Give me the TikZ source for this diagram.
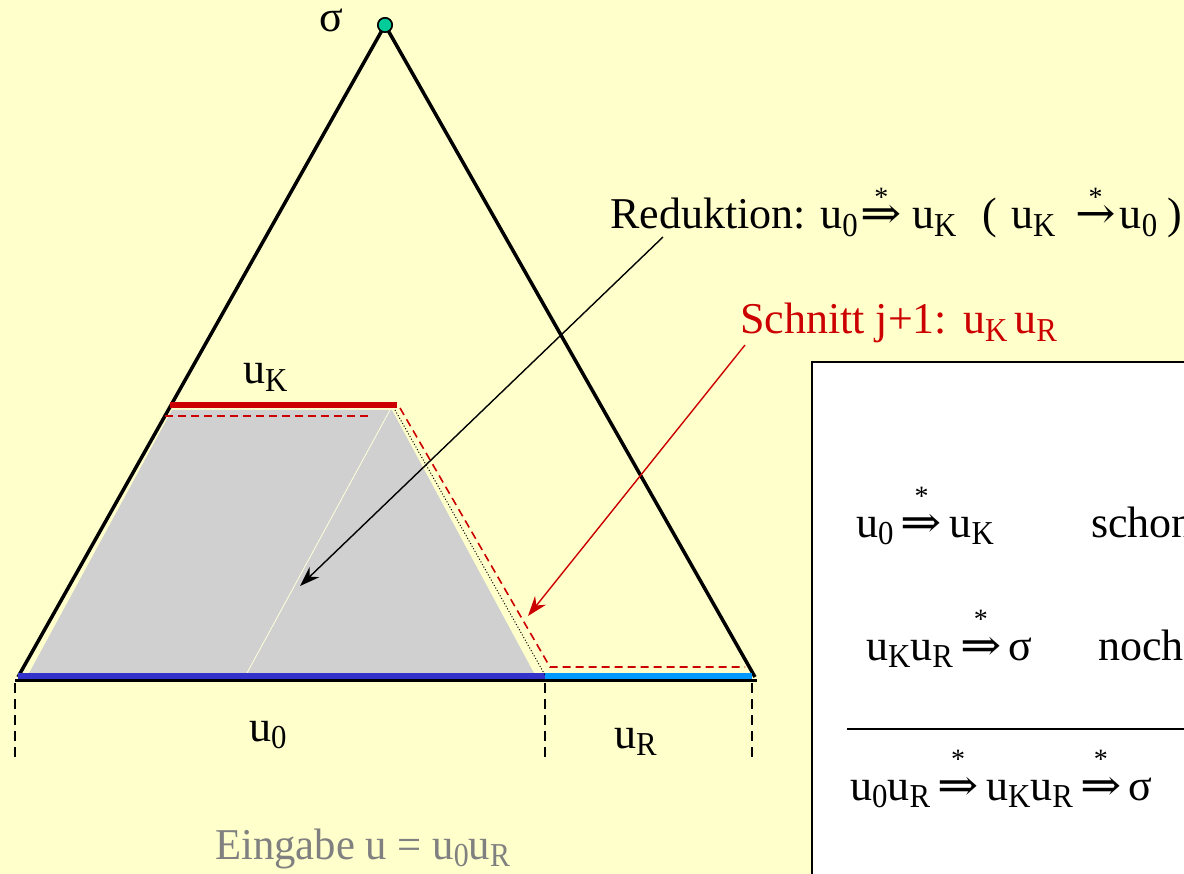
\documentclass[tikz,border=0pt]{standalone}
\usepackage{fontspec}
\usepackage{graphicx}
\setmainfont{Liberation Serif}
\newfontfamily\arrfont{DejaVu Serif}
\usetikzlibrary{arrows.meta}
\definecolor{bgyellow}{RGB}{255,255,204}
\definecolor{cutred}{RGB}{204,0,0}
\definecolor{darkblue}{RGB}{51,51,204}
\definecolor{lightblue}{RGB}{0,153,255}
\definecolor{apexteal}{RGB}{0,204,153}
\definecolor{textgray}{RGB}{128,128,128}
\definecolor{fillgray}{RGB}{208,208,208}
\newcommand{\lo}[1]{\raisebox{-0.17em}{\scalebox{0.7}[0.76]{#1}}}
\newcommand{\withstar}[2]{\setbox0\hbox{#2}\hbox to \wd0{\hss\raisebox{#1}{\fontsize{28}{28}\selectfont *}\hss}\kern-\wd0\box0}
\newcommand{\dstar}[1][0.62em]{\withstar{#1}{\scalebox{1.12}[1.0]{\arrfont ⇒}}}
\newcommand{\rstar}[1][0.62em]{\withstar{#1}{\scalebox{1.1}[1.0]{\arrfont →}}}
\tikzset{
  lbl/.style={inner sep=0pt, anchor=base west, font=\fontsize{44}{50}\selectfont},
  dimline/.style={line width=1.2pt, dash pattern=on 10pt off 6pt},
  cutdash/.style={cutred, line width=1.6pt, dash pattern=on 8pt off 5pt},
  pointer/.style={line width=1.4pt, -{Stealth[length=20pt,width=14pt]}}
}
\begin{document}
\begin{tikzpicture}[x=1pt,y=-1pt]
\clip (0,0) rectangle (1184,874);
\fill[bgyellow] (0,0) rectangle (1184,874);
% shaded region
\fill[fillgray] (172,410) -- (392,410) -- (535,675) -- (28,675) -- cycle;
\draw[bgyellow!70!white, line width=0.8pt] (247,673) -- (390,410);
% triangle
\coordinate (L) at (18,677);
\coordinate (R) at (755,677);
\node[circle, draw=black, line width=1.5pt, fill=apexteal, minimum size=14pt, inner sep=0pt] (apex) at (385,25) {};
\draw[line width=3.5pt, line join=round] (L) -- (apex.center) -- (R);
\fill[black] (385,25) circle (8pt);
\fill[apexteal] (385,25) circle (6.2pt);
% base lines
\draw[line width=3pt] (15,680) -- (757,680);
\draw[darkblue, line width=5.5pt] (18,676) -- (545,676);
\draw[lightblue, line width=5.5pt] (545,676) -- (752,676);
% top red segment
\draw[cutred, line width=6pt] (170,405) -- (397,405);
\draw[cutdash] (165,416) -- (370,416);
\draw[cutdash] (400,408) -- (550,667) -- (745,667);
\draw[line width=1pt, dotted] (395,410) -- (545,675);
% dashed verticals
\draw[dimline] (15,683) -- (15,760);
\draw[dimline] (545,683) -- (545,760);
\draw[dimline] (752,683) -- (752,760);
% labels
\node[lbl] (sigma) at (319,32) {σ};
\node[lbl] (uK) at (243,384) {u\lo{K}};
\node[lbl] (u0) at (249,741) {u\lo{0}};
\node[lbl] (uR) at (614,748) {u\lo{R}};
\node[lbl, text=textgray] (eingabe) at (215,859) {\scalebox{0.97}[1]{Eingabe u = u\lo{0}u\lo{R}}};
\node[lbl] (red) at (610,229) {Reduktion: u\lo{0}\kern3pt\dstar[0.5em]\kern10pt u\lo{K}\kern26pt(\kern14pt u\lo{K}\kern20pt\rstar[0.5em]\kern4pt u\lo{0}\kern10pt)};
\node[lbl, text=cutred] (schnitt) at (740,334) {Schnitt j+1:\kern16pt u\lo{K}\kern7pt u\lo{R}};
% pointers
\coordinate (ra) at (663,237);
\coordinate (rb) at (300,586);
\coordinate (sa) at (745,345);
\coordinate (sb) at (528,616);
\draw[pointer] (ra) -- (rb);
\draw[pointer, cutred] (sa) -- (sb);
% box
\draw[fill=white, line width=1.5pt] (812,362) rectangle (1200,900);
\node[lbl] (l1) at (856,537) {u\lo{0}\,\dstar[0.72em]\,u\lo{K}};
\node[lbl] (s1) at (1091,537) {schon};
\node[lbl] (l2) at (866,660) {u\lo{K}u\lo{R}\,\dstar[0.72em]\,σ};
\node[lbl] (s2) at (1098,660) {noch};
\draw[line width=1.5pt] (847,729) -- (1190,729);
\node[lbl] (l3) at (850,800) {u\lo{0}u\lo{R}\,\dstar[0.72em]\,u\lo{K}u\lo{R}\,\dstar[0.72em]\,σ};
\end{tikzpicture}
\end{document}
